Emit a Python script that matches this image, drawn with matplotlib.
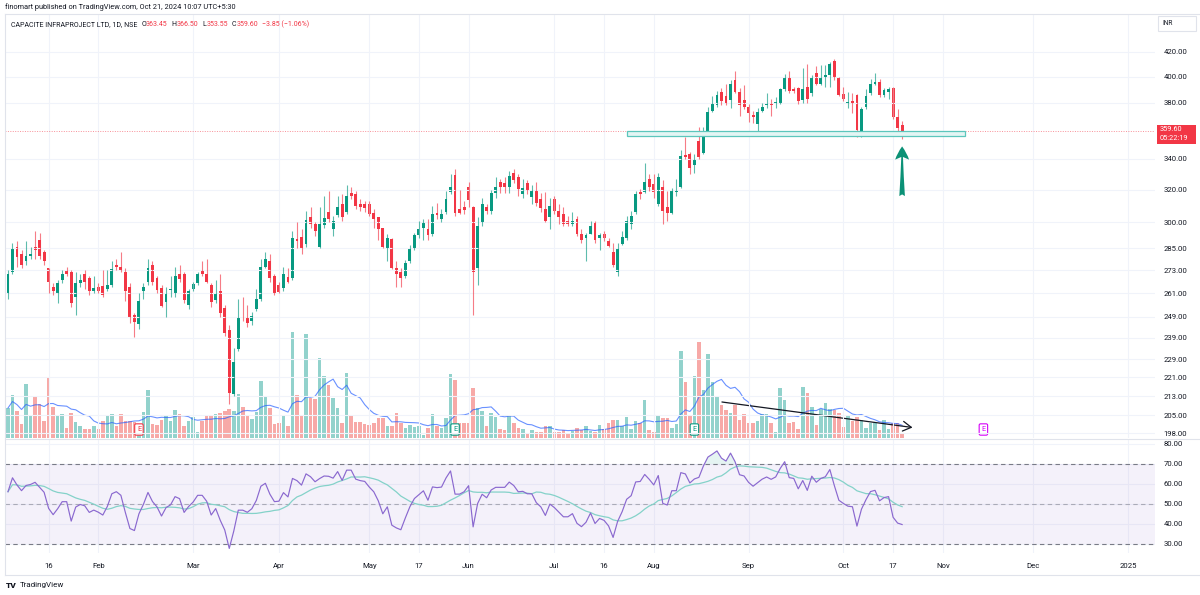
"""
Daily candles of CAPACITE INFRAPROJECT (NSE) with volume and RSI, TradingView style.
"""

import matplotlib
matplotlib.use('Agg')
import matplotlib.pyplot as plt
import matplotlib.ticker as mticker
from matplotlib.patches import Rectangle
from matplotlib.lines import Line2D
import numpy as np
import pandas as pd

# daily OHLC, 3 Jan 2024 .. 21 Oct 2024
opens = [
    261, 272, 286, 282, 278, 281, 286, 290, 283, 274, 264, 261, 268, 273, 272, 259, 266, 271, 269, 262,
    264, 264.5, 263, 265, 276, 275, 272, 264, 250, 245.5, 262, 266.5, 276,
    268.6, 263.5, 256.5, 262.7, 261, 271, 271, 255, 263, 266, 272.5, 271, 265, 257.5, 262, 253.5, 242.5, 214,
    233.7, 249, 249, 247, 253, 258, 275, 278, 269.7, 265, 263.5, 269.5, 269, 290.5, 291.5,
    287.5, 303, 299, 286, 298.5, 306.5, 296, 304.5, 311, 306, 318, 317, 311, 311, 311, 305.5, 303, 296.5,
    285, 290.5, 274, 272, 270, 278, 285.5, 292.5, 297, 296, 293.5, 305.5, 302, 306, 318.5,
    329.5, 308, 309.5, 321.5, 309.5, 274, 299.5, 309.5, 307, 318, 325, 324, 322, 331, 328, 317, 324, 315.5,
    320, 314, 308, 303, 314, 307, 305, 301, 299, 302, 293.5, 291, 293.5, 299.5, 291,
    293.5, 289, 283, 272, 287.5, 291, 299, 306.5, 318.5, 318.5, 327, 323.5, 311, 322, 309.5, 305.5, 318.5,
    322, 342.5, 343, 336, 352, 344, 358, 374, 378, 388, 385, 382, 397, 388, 382, 377,
    371, 364, 374, 378, 380, 379, 380, 390, 400, 390, 391, 382, 392, 387, 402.5, 394.5, 399.5, 401,
    412.5, 398.5, 386.5, 379.5, 381, 385.5, 359, 377, 387.5, 394.5, 396, 385.5, 388, 391, 369, 363.45,
]
highs = [
    273, 288, 289, 284, 289, 286, 295, 294, 284, 274, 266, 268, 273, 275, 273, 272, 271, 273, 270, 270,
    266, 273, 273, 278, 279, 283, 274, 266, 251, 261, 266, 279, 278,
    270, 265, 264, 270, 275, 276, 272, 263, 267, 272, 278, 279, 266, 268, 271, 255, 245, 234,
    258, 259, 255, 251.5, 263, 279, 283, 282, 271, 267, 275, 274, 295, 300, 296,
    307, 309, 300, 309, 316, 319, 304, 316, 317, 323, 322, 319, 314, 313, 313, 308, 303.5, 297,
    293, 291, 278, 274, 278.5, 287, 294, 301, 302, 302, 310, 312, 308, 319, 330,
    333, 320, 313, 325, 310, 303, 315, 311, 320, 328, 327, 328, 332, 333.5, 330, 327, 326, 323,
    325, 318, 318.5, 315, 316, 311, 309, 304, 306, 304, 296, 294, 301, 301, 294,
    295, 291, 288, 288, 295, 304, 307, 319, 320.5, 337, 330, 330, 331, 326, 319, 321, 327,
    346, 355, 345, 343, 362, 362, 377, 385, 389, 391, 394, 397, 404, 391, 393, 379,
    374, 376, 380, 387, 383, 384, 391, 402, 404, 392, 392, 407, 410, 401, 408, 409, 409, 412,
    414, 400, 392, 388, 387, 386.5, 377, 390, 398, 403, 398, 391, 392, 392, 375, 366.5,
]
lows = [
    258, 271, 275, 274, 276, 279, 279, 279, 276, 261, 260, 256, 266, 270, 254, 250, 264, 263, 260, 261,
    261, 259, 262, 264, 273, 272, 257, 246, 239.5, 243, 258, 265, 265,
    261, 254, 249, 259, 259, 267, 256, 253, 262, 265, 270, 266, 254, 256, 249, 240, 209.5, 213,
    233, 247, 244, 245, 252, 257, 274, 267, 260, 261, 262, 266, 268, 285, 282,
    286, 297, 292, 285, 297, 300, 292, 303, 301, 305, 314, 308, 307, 306, 304, 297, 290, 285,
    278, 273.5, 264, 264, 269, 277, 284, 291, 290, 290, 292, 302, 300, 305, 317,
    304, 305, 305, 309, 250, 265, 298, 305, 305, 315, 318, 318, 318, 324, 316, 315, 317, 311,
    310, 306, 300, 296, 305, 299, 298, 298, 298, 292, 288, 278, 293, 288, 284,
    289, 286, 275, 270, 287, 290, 296, 305, 314, 318, 319, 315, 310, 299, 301, 305, 316,
    321, 340, 330, 331, 340, 343, 357, 373, 377, 378, 378, 376, 387, 370, 375, 366,
    365, 359, 373, 376, 370, 376, 379, 389, 387, 387, 379, 380, 380, 385, 393, 393, 392, 392,
    397, 385, 381, 376, 372, 355, 355, 375, 386, 393, 384, 384, 383, 368, 359, 353.55,
]
closes = [
    271, 285, 280, 276, 281, 282, 284, 281, 278, 267, 262, 266, 271, 271, 256, 266, 268, 267, 262, 263.5,
    262, 260, 265, 273.5, 275, 273, 262, 248.5, 246.5, 257, 264, 274, 267,
    262.6, 254.5, 261, 263.2, 270, 268.5, 257.5, 262, 265.5, 271, 271, 267, 256.5, 261, 251, 241, 214.5, 228,
    248.5, 248.5, 246, 249.5, 258, 275, 279, 268.7, 261, 261.5, 271, 267, 291, 289, 285,
    301.5, 299, 294.7, 299, 302.5, 302.3, 301, 309, 303, 316, 316, 310, 309, 308.5, 305, 302, 296, 286,
    291, 274, 271, 269, 277, 285.5, 292.5, 296, 299.5, 292.5, 305, 304.5, 305, 314, 322,
    305.5, 305.5, 307.7, 313.5, 272, 298, 311, 306.7, 318, 322, 322, 322, 329, 326, 320.5, 321, 319, 319,
    312, 308.5, 301, 310, 307, 303, 299, 299, 301, 293, 290, 292.5, 298, 289.5, 292.5,
    291, 286.5, 275.7, 285, 291.5, 301, 304, 317, 317.5, 325, 322, 318.5, 328, 307, 305.5, 319.5, 319.5,
    342, 341, 334, 339, 341, 357, 373, 379, 386, 381, 379, 394, 388, 378, 377, 372,
    369, 373, 377, 379.5, 378, 380.5, 390, 399, 389, 388.5, 381.5, 390, 383, 399, 394.5, 399, 401, 410,
    398.5, 386, 383, 380.5, 380, 360, 375, 385, 394.5, 396, 386, 389.5, 390.5, 369, 361.5, 359.6,
]
# volume (relative units)
volumes = [
    30, 43, 27, 14, 54, 23, 41, 34, 17, 61, 31, 23, 24, 10, 25, 16, 12, 9, 9, 12,
    9, 17, 22, 24, 12, 24, 17, 17, 16, 14, 26, 48, 14,
    13, 18, 22, 17, 28, 24, 12, 17, 21, 6, 17, 23, 23, 24, 25, 27, 29, 27,
    44, 31, 22, 19, 26, 57, 42, 30, 14, 15, 22, 12, 106, 43, 22,
    104, 40, 39, 80, 62, 53, 40, 30, 15, 65, 23, 16, 16, 14, 13, 15, 20, 20,
    12, 12, 25, 15, 10, 13, 11, 12, 3, 10, 24, 12, 10, 20, 64,
    58, 15, 15, 15, 50, 30, 27, 12, 25, 21, 9, 8, 22, 15, 10, 9, 5, 8,
    6, 6, 12, 12, 6, 6, 8, 5, 7, 10, 8, 12, 7, 6, 13,
    9, 15, 18, 18, 12, 21, 9, 17, 15, 38, 8, 6, 22, 20, 20, 10, 14,
    87, 56, 22, 62, 96, 48, 84, 56, 42, 33, 28, 25, 33, 18, 24, 15,
    15, 17, 24, 24, 15, 6, 50, 38, 15, 16, 9, 51, 45, 31, 13, 29, 35, 29,
    28, 25, 11, 22, 17, 21, 18, 10, 15, 15, 8, 18, 9, 15, 15, 4,
]

first_day = '2024-01-03'
last_day = '2024-10-21'
nse_holidays = ['2024-01-22', '2024-01-26', '2024-03-08', '2024-03-25', '2024-03-29',
                '2024-04-11', '2024-04-17', '2024-05-01', '2024-05-20', '2024-06-17',
                '2024-07-17', '2024-08-15', '2024-10-02']
special_sessions = ['2024-01-20', '2024-03-02', '2024-05-18']
future_holidays = ['2024-11-15', '2024-12-25']

tick_dates = ['2024-01-16', '2024-02-01', '2024-03-01', '2024-04-01', '2024-05-01', '2024-05-17',
              '2024-06-01', '2024-07-01', '2024-07-16', '2024-08-01', '2024-09-01', '2024-10-01',
              '2024-10-17', '2024-11-01', '2024-12-01', '2025-01-01']
tick_labels = ['16', 'Feb', 'Mar', 'Apr', 'May', '17', 'Jun', 'Jul', '16', 'Aug', 'Sep', 'Oct',
               '17', 'Nov', 'Dec', '2025']
earnings_dates = ['2024-02-14', '2024-05-29', '2024-08-14', '2024-11-14']

price_ticks = [198, 205, 213, 221, 229, 239, 249, 261, 273, 285, 300, 320, 340, 380, 400, 420]
rsi_ticks = [30, 40, 50, 60, 70, 80]
last_price = 359.60
support_low, support_high = 355.9, 359.4
support_from, support_to = '2024-07-24', '2024-11-08'

rsi_length = 14
rsi_seed_gain, rsi_seed_loss = 3.2, 2.5   # state carried in from before January
vol_ma_length = 10

UP = '#089981'
DOWN = '#F23645'
VOL_UP = '#92d2cc'
VOL_DOWN = '#f7a9a7'
GRID = '#f0f3fa'
TEXT = '#131722'
BORDER = '#e0e3eb'

W, H = 1200, 595


def rect(x0, y0, x1, y1):
    """Axes rectangle from pixel corners (top-left origin)."""
    return [x0 / W, 1 - y1 / H, (x1 - x0) / W, (y1 - y0) / H]


def fx(x):
    return x / W


def fy(y):
    return 1 - y / H


def compute_rsi(values):
    """Wilder RSI, continuing from a seeded state."""
    gain, loss = rsi_seed_gain, rsi_seed_loss
    out = [100 - 100 / (1 + gain / loss)]
    for d in np.diff(values):
        gain = (gain * (rsi_length - 1) + max(d, 0)) / rsi_length
        loss = (loss * (rsi_length - 1) + max(-d, 0)) / rsi_length
        out.append(100 - 100 / (1 + gain / loss))
    return np.array(out)


def main():
    plt.rcParams['font.family'] = ['Roboto', 'DejaVu Sans']

    o = np.array(opens)
    h = np.array(highs)
    l = np.array(lows)
    c = np.array(closes)
    v = np.array(volumes)
    n = len(c)
    x = np.arange(n)

    # trading calendar, aligned so the last bar is 21 Oct
    past = pd.bdate_range(first_day, last_day, freq='C', holidays=nse_holidays)
    past = past.union(pd.DatetimeIndex(special_sessions))
    future = pd.bdate_range(pd.Timestamp(last_day) + pd.Timedelta(days=1), '2025-03-31',
                            freq='C', holidays=future_holidays)
    days = past.append(future)
    offset = len(past) - n

    def day_index(d):
        return days.searchsorted(pd.Timestamp(d)) - offset

    ticks = [day_index(d) for d in tick_dates]

    fig = plt.figure(figsize=(12, 5.95), dpi=100)
    ax_vol = fig.add_axes(rect(5, 14, 1155, 438))
    ax = fig.add_axes(rect(5, 14, 1155, 438), sharex=ax_vol)
    ax_rsi = fig.add_axes(rect(5, 440, 1155, 553), sharex=ax_vol)
    ax.patch.set_visible(False)
    ax_vol.set_xlim(-0.66, 254.0)

    # volume
    up = c >= o
    ax_vol.bar(x, v, width=0.78, color=np.where(up, VOL_UP, VOL_DOWN), lw=0)
    vol_ma = pd.Series(v).rolling(vol_ma_length, min_periods=1).mean()
    ax_vol.plot(x, vol_ma, color='#2962ff', lw=0.8, alpha=0.7)
    ax_vol.set_ylim(0, 424)
    ax_vol.axis('off')

    # trend line on volume
    ax_vol.annotate('', xy=(200.3, 10.5), xytext=(158.1, 36),
                    arrowprops=dict(arrowstyle='->,head_length=0.6,head_width=0.35',
                                    color=TEXT, lw=0.9, shrinkA=0, shrinkB=0))

    # earnings markers
    for i, d in enumerate(earnings_dates):
        col = [DOWN, UP, UP, '#d500f9'][i]
        ax_vol.text(day_index(d), 8.5, 'E', ha='center', va='center', fontsize=5.2, color=col,
                    bbox=dict(boxstyle='round,pad=0.3,rounding_size=0.2', fc='white', ec=col, lw=0.8))

    # candles
    col = np.where(up, UP, DOWN)
    ax.vlines(x, l, h, colors=col, lw=0.8, alpha=0.65)
    ax.bar(x, np.maximum(np.abs(c - o), 0.35), bottom=np.minimum(o, c), width=0.64, color=col, lw=0)

    ax.set_yscale('log')
    ax.set_ylim(196.1, 452.5)
    ax.yaxis.set_major_locator(mticker.FixedLocator(price_ticks))
    ax.yaxis.set_minor_locator(mticker.NullLocator())
    ax.yaxis.set_major_formatter(mticker.FuncFormatter(lambda val, pos: f'{val:.2f}'))
    ax.yaxis.tick_right()
    ax.tick_params(axis='y', length=0, pad=6, labelsize=5.6, labelcolor=TEXT)
    ax.tick_params(axis='x', length=0, labelbottom=False)
    ax.grid(True, color=GRID, lw=0.8)

    # current price line and support zone
    ax.axhline(last_price, color=DOWN, lw=0.7, ls=(0, (1, 1.5)), alpha=0.55)
    z0, z1 = day_index(support_from), day_index(support_to)
    ax.add_patch(Rectangle((z0, support_low), z1 - z0, support_high - support_low,
                           facecolor='#e3f5f4', edgecolor='#5cc6bc', lw=0.9, zorder=3))

    # bounce arrow
    ax.annotate('', xy=(n - 1, 348.5), xytext=(n - 1, 316),
                arrowprops=dict(arrowstyle='fancy,head_length=0.95,head_width=1.0,tail_width=0.4',
                                mutation_scale=10, color='#0b9176', lw=0, shrinkA=0, shrinkB=0))

    # RSI pane
    rsi = compute_rsi(c)
    rsi_ma = pd.Series(rsi).rolling(rsi_length, min_periods=1).mean()
    ax_rsi.axhspan(30, 70, color='#7E57C2', alpha=0.08, lw=0)
    for lvl, a in ((70, 1.0), (50, 0.55), (30, 1.0)):
        ax_rsi.axhline(lvl, color='#787B86', lw=0.8, ls=(0, (4, 3)), alpha=a)
    ax_rsi.fill_between(x, rsi, 70, where=rsi > 70, color=UP, alpha=0.1, lw=0, interpolate=True)
    ax_rsi.plot(x, rsi_ma, color='#84d2c9', lw=0.9)
    ax_rsi.plot(x, rsi, color='#8a68cf', lw=0.85)
    ax_rsi.set_ylim(25.5, 82)
    ax_rsi.yaxis.set_major_locator(mticker.FixedLocator(rsi_ticks))
    ax_rsi.yaxis.set_major_formatter(mticker.FuncFormatter(lambda val, pos: f'{val:.2f}'))
    ax_rsi.yaxis.tick_right()
    ax_rsi.tick_params(axis='y', length=0, pad=6, labelsize=5.6, labelcolor=TEXT)
    ax_rsi.set_xticks(ticks)
    ax_rsi.set_xticklabels(tick_labels)
    ax_rsi.tick_params(axis='x', length=0, pad=7, labelsize=5.6, labelcolor=TEXT)
    ax_rsi.grid(True, color=GRID, lw=0.8)
    ax_rsi.set_axisbelow(True)

    for a in (ax, ax_rsi, ax_vol):
        for s in a.spines.values():
            s.set_visible(False)

    # frame lines
    for xs, ys in (((5, 1200), (13.5, 13.5)), ((5, 5), (13.5, 575)),
                   ((5, 1200), (439, 439)), ((5, 1200), (575, 575))):
        fig.add_artist(Line2D([fx(xs[0]), fx(xs[1])], [fy(ys[0]), fy(ys[1])], color=BORDER, lw=0.8))

    # header and legend (legend pieces chained left to right)
    fig.text(fx(5), fy(7), 'finomart published on TradingView.com, Oct 21, 2024 10:07 UTC+5:30',
             fontsize=5.3, color=TEXT, va='center')
    legend = [('O', TEXT, 3.0), ('363.45', DOWN, 0), ('H', TEXT, 3.0), ('366.50', DOWN, 0),
              ('L', TEXT, 3.0), ('353.55', DOWN, 0), ('C', TEXT, 3.0), ('359.60', DOWN, 0),
              ('\u22123.85 (\u22121.06%)', DOWN, 3.0)]
    prev = fig.text(fx(10.7), fy(26.5), 'CAPACITE INFRAPROJECT LTD, 1D, NSE', fontsize=5.0,
                    color=TEXT, va='baseline')
    for txt, colr, gap in legend:
        prev = ax.annotate(txt, xy=(1, fy(26.5)), xycoords=(prev, 'figure fraction'),
                           xytext=(gap, 0), textcoords='offset points', fontsize=5.0,
                           color=colr, va='baseline', ha='left', annotation_clip=False)

    # price scale extras
    fig.add_artist(Rectangle((fx(1158), fy(31)), fx(38), 15 / H, facecolor='white',
                             edgecolor=BORDER, lw=0.8))
    fig.text(fx(1162), fy(23.5), 'INR', fontsize=4.8, color=TEXT, va='center')
    fig.add_artist(Rectangle((fx(1157), fy(143.5)), fx(39), 19 / H, facecolor=DOWN, lw=0))
    fig.text(fx(1160), fy(129.5), f'{last_price:.2f}', fontsize=5.3, color='white', va='center')
    fig.text(fx(1160), fy(138.5), '05:22:19', fontsize=5.3, color='white', va='center')

    # footer logo
    fig.text(fx(6), fy(585), 'TV', fontsize=6, weight='heavy', color=TEXT, va='center')
    fig.text(fx(20), fy(585), 'TradingView', fontsize=5.8, color=TEXT, va='center')

    fig.savefig('out.png', dpi=100)


if __name__ == '__main__':
    main()
